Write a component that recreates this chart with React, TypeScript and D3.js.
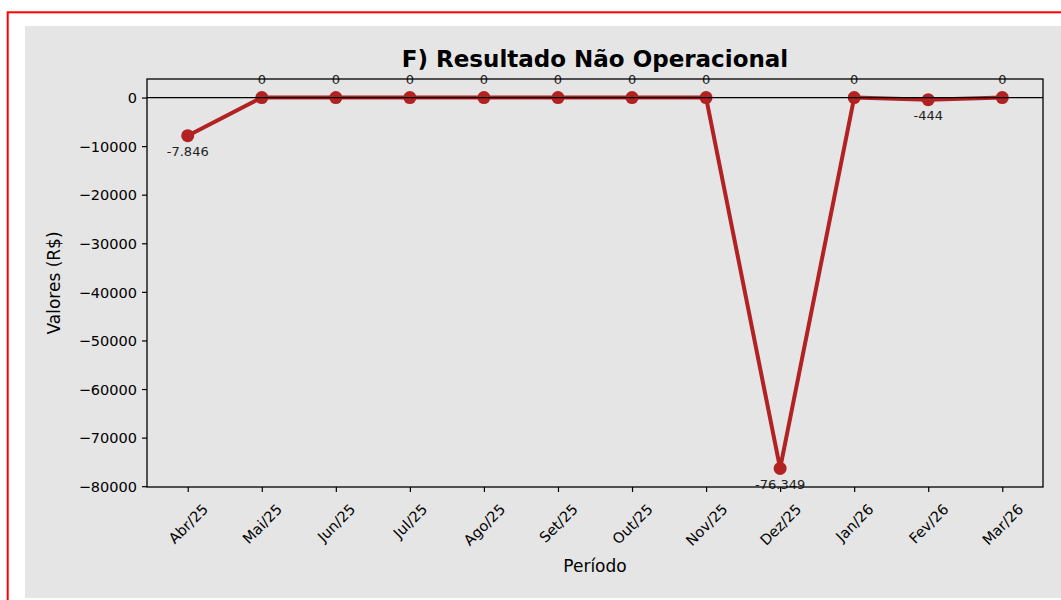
import React, { useEffect, useRef } from 'react';
import * as d3 from 'd3';

const periods = ['Abr/25', 'Mai/25', 'Jun/25', 'Jul/25', 'Ago/25', 'Set/25', 'Out/25', 'Nov/25', 'Dez/25', 'Jan/26', 'Fev/26', 'Mar/26'];
const values = [-7846, 0, 0, 0, 0, 0, 0, 0, -76349, 0, -444, 0];
const yTicks = [0, -10000, -20000, -30000, -40000, -50000, -60000, -70000, -80000];

const W = 1061;
const H = 600;
const FONT = '"DejaVu Sans", sans-serif';
const LINE = '#b22222';

// axes box
const box = { left: 147, right: 1043, top: 79, bottom: 487 };

// brazilian thousands separator, ascii minus as in the picture
const fmtValue = (v: number) => {
  const s = Math.abs(v).toString().replace(/\B(?=(\d{3})+(?!\d))/g, '.');
  return v < 0 ? '-' + s : s;
};

export default function App() {
  const svgRef = useRef<SVGSVGElement>(null);

  useEffect(() => {
    const svg = d3.select(svgRef.current);
    svg.selectAll('*').remove();

    // page frame: red outline and grey figure
    svg.append('rect')
      .attr('x', 7.7).attr('y', 12.3)
      .attr('width', W + 20).attr('height', H + 20)
      .attr('fill', 'none').attr('stroke', '#ff0000').attr('stroke-width', 2);
    svg.append('rect')
      .attr('x', 25).attr('y', 26)
      .attr('width', W).attr('height', 572)
      .attr('fill', '#e5e5e5');

    const x = d3.scalePoint<string>()
      .domain(periods)
      .range([box.left, box.right])
      .padding(0.55);

    const y = d3.scaleLinear()
      .domain([-80166, 3817])
      .range([box.bottom, box.top]);

    // y axis
    const yAxis = d3.axisLeft(y)
      .tickValues(yTicks)
      .tickSize(5)
      .tickPadding(5)
      .tickFormat(d => d3.format('d')(d as number).replace('-', '\u2212'));
    const gy = svg.append('g').attr('transform', `translate(${box.left},0)`).call(yAxis);
    gy.select('.domain').remove();
    gy.selectAll('line').attr('stroke', '#000').attr('stroke-width', 1.2);
    gy.selectAll('text')
      .attr('font-family', FONT).attr('font-size', 14.5).attr('fill', '#000')
      .attr('dy', '0.36em');

    // x axis
    const xAxis = d3.axisBottom(x).tickSize(5);
    const gx = svg.append('g').attr('transform', `translate(0,${box.bottom})`).call(xAxis);
    gx.select('.domain').remove();
    gx.selectAll('line').attr('stroke', '#000').attr('stroke-width', 1.2);
    gx.selectAll<SVGTextElement, string>('text')
      .attr('font-family', FONT).attr('font-size', 14.5).attr('fill', '#000')
      .attr('text-anchor', 'middle')
      .attr('y', 0).attr('dy', '0.35em')
      .each(function () {
        const t = d3.select(this);
        const w = this.getComputedTextLength();
        const cy = 14 + (w + 16) / (2 * Math.SQRT2);
        t.attr('transform', `translate(0,${cy}) rotate(-45)`);
      });

    // line + markers
    const line = d3.line<number>()
      .x((d, i) => x(periods[i]) as number)
      .y(d => y(d));
    svg.append('path')
      .datum(values)
      .attr('d', line)
      .attr('fill', 'none')
      .attr('stroke', LINE)
      .attr('stroke-width', 4)
      .attr('stroke-linejoin', 'round');
    svg.selectAll('.dot')
      .data(values)
      .join('circle')
      .attr('class', 'dot')
      .attr('cx', (d, i) => x(periods[i]) as number)
      .attr('cy', d => y(d))
      .attr('r', 6.5)
      .attr('fill', LINE);

    // zero reference line
    svg.append('line')
      .attr('x1', box.left).attr('x2', box.right)
      .attr('y1', y(0)).attr('y2', y(0))
      .attr('stroke', '#000').attr('stroke-width', 1.3);

    // value labels
    svg.selectAll('.val')
      .data(values)
      .join('text')
      .attr('class', 'val')
      .attr('x', (d, i) => x(periods[i]) as number)
      .attr('y', d => (d < 0 ? y(d) + 20.7 : y(d) - 13.3))
      .attr('text-anchor', 'middle')
      .attr('font-family', FONT)
      .attr('font-size', 13)
      .attr('fill', '#222')
      .text(d => fmtValue(d));

    // spines
    svg.append('rect')
      .attr('x', box.left).attr('y', box.top)
      .attr('width', box.right - box.left).attr('height', box.bottom - box.top)
      .attr('fill', 'none').attr('stroke', '#000').attr('stroke-width', 1.3);

    // title and axis labels
    svg.append('text')
      .attr('x', (box.left + box.right) / 2).attr('y', 67)
      .attr('text-anchor', 'middle')
      .attr('font-family', FONT).attr('font-size', 23).attr('font-weight', 'bold')
      .attr('fill', '#000')
      .text('F) Resultado Não Operacional');
    svg.append('text')
      .attr('x', (box.left + box.right) / 2).attr('y', 572)
      .attr('text-anchor', 'middle')
      .attr('font-family', FONT).attr('font-size', 17).attr('fill', '#000')
      .text('Período');
    svg.append('text')
      .attr('transform', `translate(60,${(box.top + box.bottom) / 2}) rotate(-90)`)
      .attr('text-anchor', 'middle')
      .attr('font-family', FONT).attr('font-size', 17).attr('fill', '#000')
      .text('Valores (R$)');
  }, []);

  return (
    <div style={{ position: 'absolute', left: 0, top: 0 }}>
      <svg ref={svgRef} width={W} height={H} style={{ display: 'block', background: '#fff' }} />
    </div>
  );
}
